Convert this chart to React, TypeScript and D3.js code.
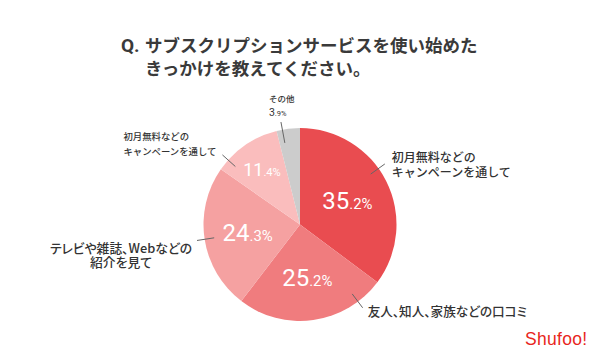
import React from "react";
import * as d3 from "d3";

const categories = [
  "初月無料などのキャンペーンを通して",
  "友人、知人、家族などの口コミ",
  "テレビや雑誌、Webなどの紹介を見て",
  "初月無料などのキャンペーンを通して (2)",
  "その他",
];
const values = [35.2, 25.2, 24.3, 11.4, 3.9];
const colors = ["#E94C50", "#F07C7E", "#F5A1A1", "#FABDBD", "#CCCCCC"];
const titleLines = ["サブスクリプションサービスを使い始めた", "きっかけを教えてください。"];

const W = 600;
const H = 358;
const cx = 300;
const cy = 224.5;
const R = 96.5;

// leader position inside each slice (fraction of angular span)
const leaderT = [0.43, 0.18, 0.5, 0.17, 0.25];

const FONT_JP = "'Noto Sans CJK JP', 'Noto Sans', sans-serif";
const FONT_NUM = "Roboto, 'Noto Sans', sans-serif";

export default function App() {
  const pie = d3.pie<number>().sort(null).value((d) => d);
  const arcs = pie(values);
  const arc = d3.arc<d3.PieArcDatum<number>>().innerRadius(0).outerRadius(R);

  const pt = (angle: number, r: number) => [
    cx + r * Math.sin(angle),
    cy - r * Math.cos(angle),
  ];

  const textColor = "#333333";

  const pctLabel = (v: number, i: number, a: d3.PieArcDatum<number>) => {
    const mid = (a.startAngle + a.endAngle) / 2;
    const lr = v > 20 ? 53 : 67;
    const [x, y] = pt(mid, lr);
    const big = v > 20 ? 24 : 18;
    const [ip, dp] = v.toFixed(1).split(".");
    return (
      <text
        key={"p" + i}
        x={x}
        y={y + big * 0.36}
        textAnchor="middle"
        fill="#ffffff"
        fontFamily={FONT_NUM}
        fontWeight={400}
      >
        <tspan fontSize={big}>{ip}</tspan>
        <tspan fontSize={big * 0.62}>{"." + dp + "%"}</tspan>
      </text>
    );
  };

  const leaders = arcs.map((a, i) => {
    const ang = a.startAngle + (a.endAngle - a.startAngle) * leaderT[i];
    const inner = pt(ang, R * (i === 4 ? 0.86 : 0.9));
    const outer = pt(ang, R * 1.08);
    return { inner, outer };
  });

  const lab = (i: number) => leaders[i].outer;
  const palt = { fontFeatureSettings: '"palt"' } as React.CSSProperties;

  return (
    <svg
      width={W}
      height={H}
      style={{ position: "absolute", left: 0, top: 0, background: "#fff" }}
    >
      <rect x={0} y={0} width={W} height={H} fill="#fff" />
      {/* title */}
      <text x={121} y={52} fill="#3a3a3a" fontFamily={FONT_NUM} fontWeight={700} fontSize={19}>
        Q.
      </text>
      <text x={145} y={52} fill="#3a3a3a" fontFamily={FONT_JP} fontWeight={700} fontSize={17.5}>
        {titleLines[0]}
      </text>
      <text x={145} y={75} fill="#3a3a3a" fontFamily={FONT_JP} fontWeight={700} fontSize={17.5}>
        {titleLines[1]}
      </text>

      {/* pie */}
      <g transform={`translate(${cx},${cy})`}>
        {arcs.map((a, i) => (
          <path key={i} d={arc(a) || ""} fill={colors[i]} />
        ))}
      </g>

      {/* leaders */}
      {leaders.map((l, i) => (
        <line
          key={"l" + i}
          x1={l.inner[0]}
          y1={l.inner[1]}
          x2={l.outer[0]}
          y2={l.outer[1]}
          stroke="#666"
          strokeWidth={1}
        />
      ))}

      {arcs.map((a, i) => (i < 4 ? pctLabel(values[i], i, a) : null))}

      {/* outer labels */}
      <text fill={textColor} fontFamily={FONT_JP} fontSize={12} fontWeight={500}>
        <tspan x={lab(0)[0] + 7} y={lab(0)[1] - 2}>初月無料などの</tspan>
        <tspan x={lab(0)[0] + 7} y={lab(0)[1] + 13}>キャンペーンを通して</tspan>
      </text>
      <text fill={textColor} fontFamily={FONT_JP} fontSize={12.6} fontWeight={500} style={palt}>
        <tspan x={lab(1)[0] + 5} y={lab(1)[1] + 8}>{categories[1]}</tspan>
      </text>
      <text fill={textColor} fontFamily={FONT_JP} fontSize={12.8} fontWeight={500} textAnchor="middle" style={palt}>
        <tspan x={lab(2)[0] - 76} y={lab(2)[1] + 13}>テレビや雑誌、Webなどの</tspan>
        <tspan x={lab(2)[0] - 76} y={lab(2)[1] + 27}>紹介を見て</tspan>
      </text>
      <text fill={textColor} fontFamily={FONT_JP} fontSize={9.4} fontWeight={500}>
        <tspan x={lab(3)[0] - 99} y={lab(3)[1] - 15}>初月無料などの</tspan>
        <tspan x={lab(3)[0] - 99} y={lab(3)[1]}>キャンペーンを通して</tspan>
      </text>
      <text fill={textColor} fontFamily={FONT_JP} fontSize={8.5} fontWeight={500}>
        <tspan x={lab(4)[0] - 12} y={lab(4)[1] - 20}>{categories[4]}</tspan>
      </text>
      <text x={lab(4)[0] - 12} y={lab(4)[1] - 6} fill={textColor} fontFamily={FONT_NUM} fontWeight={400}>
        <tspan fontSize={10.5}>{values[4].toFixed(1).split(".")[0]}</tspan>
        <tspan fontSize={7.5}>{"." + values[4].toFixed(1).split(".")[1] + "%"}</tspan>
      </text>

      {/* logo */}
      <text
        x={525}
        y={345}
        fill="#E8261C"
        fontFamily="'Liberation Sans', Arial, sans-serif"
        fontSize={17.5}
        letterSpacing={0.3}
      >
        Shufoo!
      </text>
    </svg>
  );
}
